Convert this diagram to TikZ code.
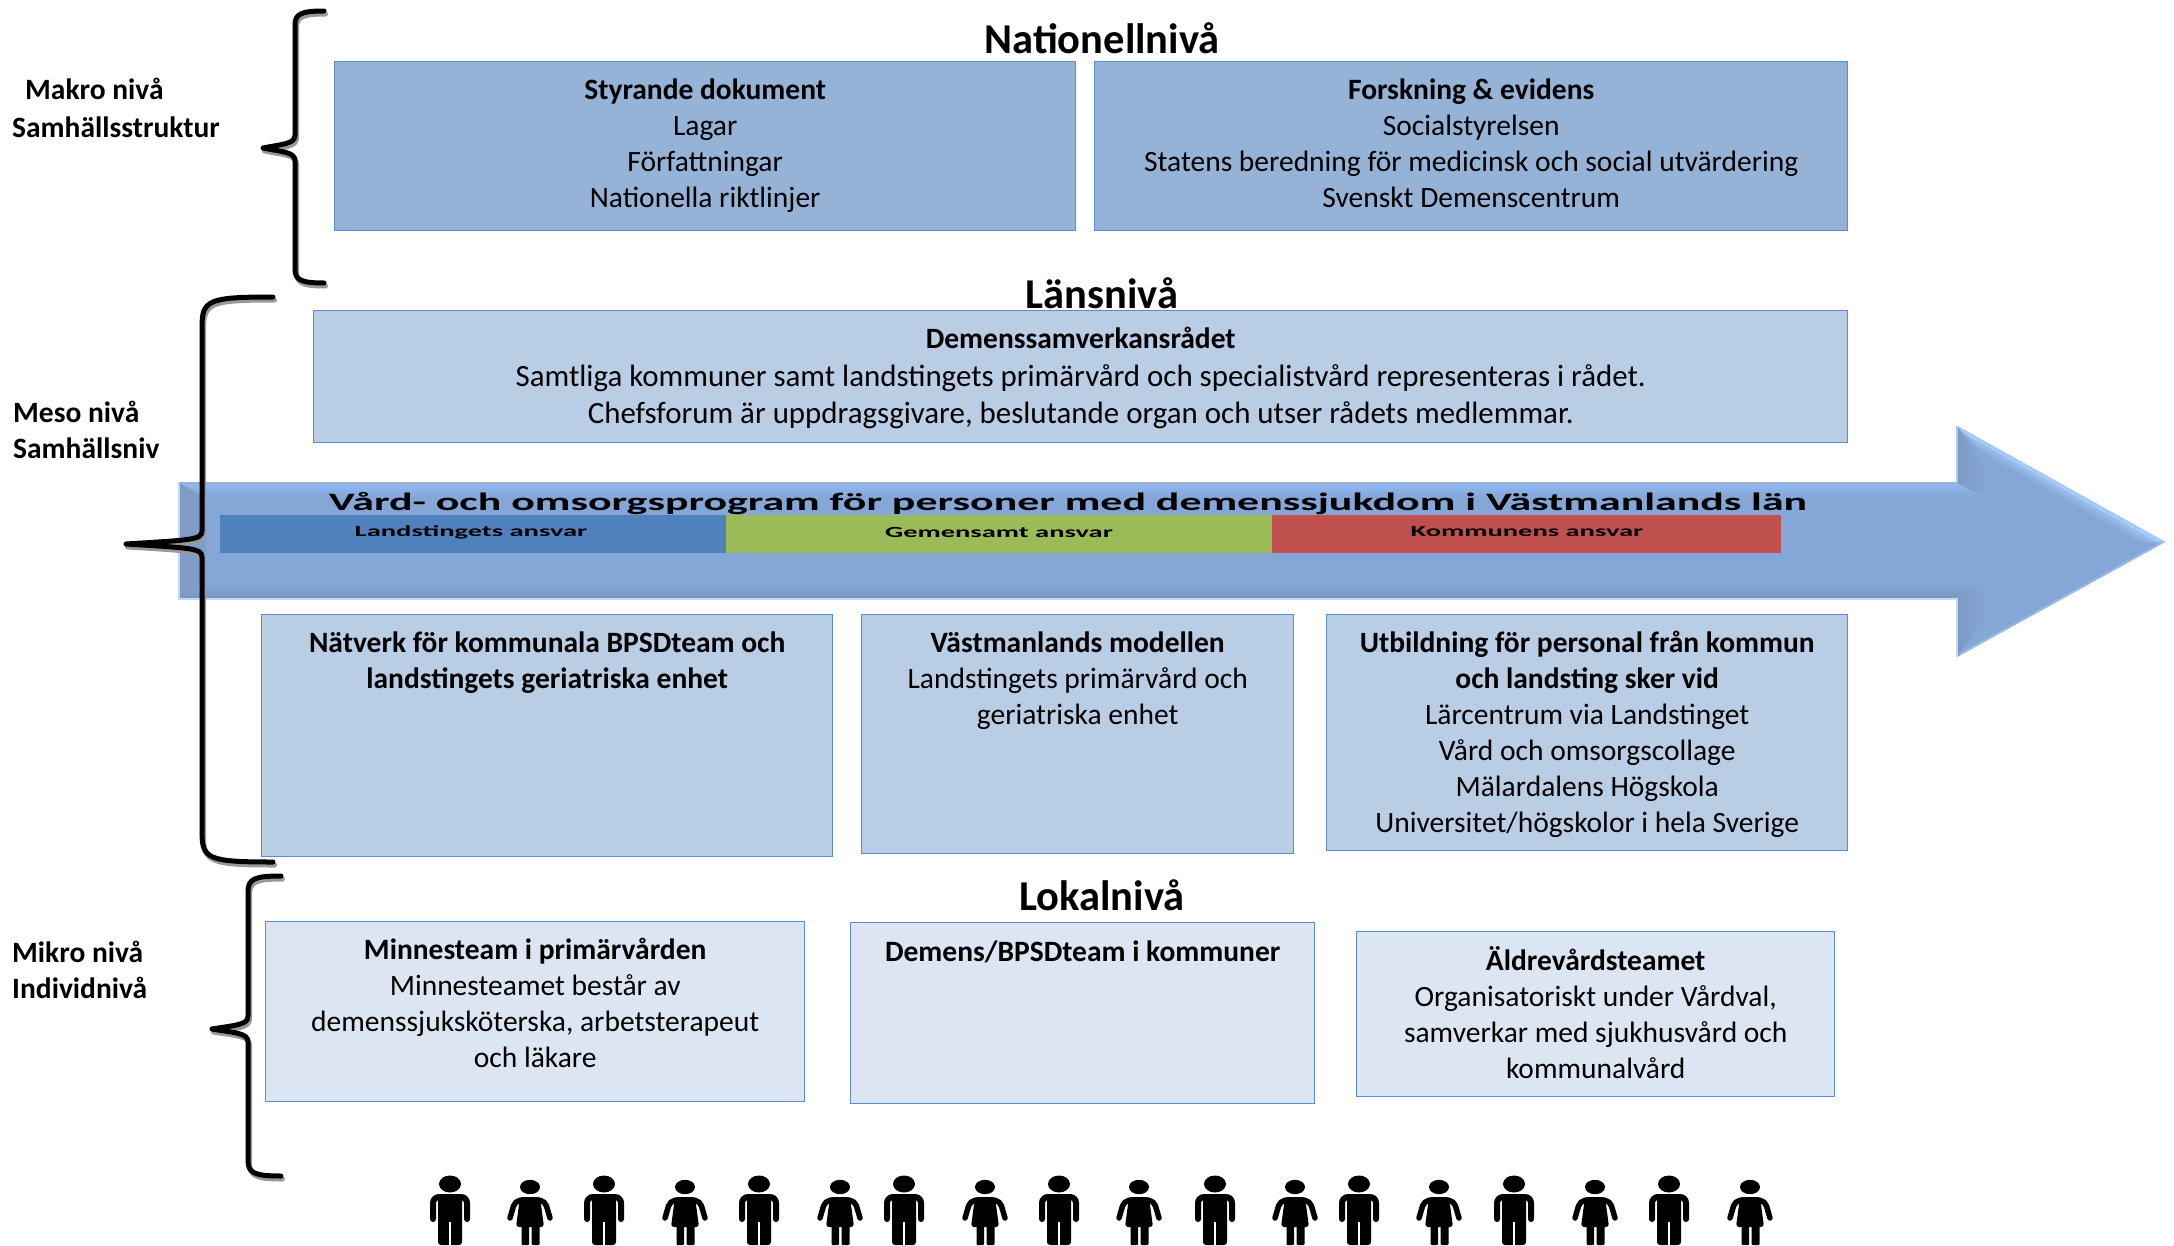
\documentclass[tikz,border=0pt]{standalone}
\usepackage{fontspec}
\setmainfont{Carlito}
\usetikzlibrary{calc,positioning}
\definecolor{natfill}{HTML}{95B3D7}
\definecolor{lanfill}{HTML}{B9CDE5}
\definecolor{lokfill}{HTML}{DCE6F2}
\definecolor{boxline}{HTML}{5B8BD0}
\definecolor{arrowbase}{HTML}{84A7D7}
\definecolor{arrowtop}{HTML}{92B9F3}
\definecolor{arrowlow}{HTML}{7A95BD}
\definecolor{arrowside}{HTML}{7F99C2}
\definecolor{arrowedge}{HTML}{A6CAF9}
\definecolor{lsblue}{HTML}{4F81BD}
\definecolor{gemgreen}{HTML}{9BBB59}
\definecolor{komred}{HTML}{C0504D}
\tikzset{
  lvlbox/.style={rectangle, draw=boxline, line width=1.4pt, anchor=north west, inner sep=0pt},
  txt/.style={align=center, inner sep=0pt, font=\fontsize{29.5}{36}\selectfont},
  hdr/.style={inner sep=0pt, font=\fontsize{42.5}{50}\selectfont\bfseries},
  side/.style={anchor=west, inner sep=0pt, font=\fontsize{29.5}{35}\selectfont\bfseries},
  bar/.style={draw=none, minimum height=38pt, inner sep=0pt, anchor=north west},
  barlbl/.style={inner sep=0pt, font=\fontsize{15.5}{18}\selectfont\bfseries},
  brace/.style={line width=5pt, line cap=round, line join=round},
  manfig/.pic={
    \fill[black] (0,0) ellipse (11 and 8.5);
    \fill[black, rounded corners=3pt] (-12,10) rectangle (12,61);
    \draw[white, line width=1.4pt] (0,38) -- (0,62);
    \draw[black, line width=6pt, line cap=round, rounded corners=6pt] (-8,13) -- (-17,13) -- (-17,35);
    \draw[black, line width=6pt, line cap=round, rounded corners=6pt] (8,13) -- (17,13) -- (17,35);
  },
  womanfig/.pic={
    \fill[black] (0,0) ellipse (10 and 7.2);
    \fill[black, rounded corners=3pt] (-10,10) -- (10,10) -- (14,40) -- (-14,40) -- cycle;
    \fill[black, rounded corners=1pt] (-8.5,39) rectangle (-0.8,58);
    \fill[black, rounded corners=1pt] (1.6,39) rectangle (9.5,58);
    \draw[black, line width=5.5pt, line cap=round, rounded corners=5pt] (-8,13) -- (-15,14) -- (-20,31);
    \draw[black, line width=5.5pt, line cap=round, rounded corners=5pt] (8,13) -- (15,14) -- (20,31);
  },
}

\begin{document}
\begin{tikzpicture}[x=1pt, y=-1pt]
  \useasboundingbox (0,0) rectangle (2174,1245);

  % --- Arrow ---
  \coordinate (BL) at (179,483);
  \coordinate (BR) at (1957,483);
  \coordinate (HT) at (1957,426);
  \coordinate (TP) at (2165,542);
  \coordinate (HB) at (1957,657);
  \coordinate (CR) at (1957,599);
  \coordinate (CL) at (179,599);
  \fill[arrowbase] (BL)--(BR)--(HT)--(TP)--(HB)--(CR)--(CL)--cycle;
  % Bevel
  \shade[top color=arrowtop, bottom color=arrowbase] (BL)--(BR)--(1985,497)--(205,497)--cycle;
  \shade[top color=arrowbase, bottom color=arrowlow] (205,583)--(1985,583)--(CR)--(CL)--cycle;
  \shade[left color=arrowside, right color=arrowside!60!arrowbase] (BL)--(205,497)--(205,583)--(CL)--cycle;
  \foreach \d/\p in {12/25, 8/50, 4/100}
    \fill[arrowedge!\p!arrowbase] (HT)--(TP)--({2165-2*\d},542)--({1957+2*\d},{426+\d*2.12})--cycle;
  \fill[arrowedge!50!arrowbase] (HB)--(TP)--(2161,542)--(1962,652)--cycle;
  \shade[left color=arrowside, right color=arrowbase] (HT)--(1985,470)--(1985,497)--(BR)--cycle;
  \shade[left color=arrowside, right color=arrowbase] (CR)--(1985,583)--(1985,618)--(HB)--cycle;
  \draw[arrowedge!70!white, line width=1.5pt, line join=miter] (HB)--(CR)--(CL)--(BL);
  \draw[arrowedge, line width=1.2pt] (BR)--(HT);
  \draw[black!15!arrowbase!70!white, line width=1.2pt] (BL)--(BR);

  \node[inner sep=0pt, font=\fontsize{25}{30}\selectfont\bfseries] (prog) at (1068,504)
    {\scalebox{1.754}[1]{Vård- och omsorgsprogram för personer med demenssjukdom i Västmanlands län}};
  \node[bar, fill=lsblue, minimum width=506pt] (lands) at (220,515) {};
  \node[bar, fill=gemgreen, minimum width=546pt] (gem) at (726,515) {};
  \node[bar, fill=komred, minimum width=509pt] (komm) at (1272,515) {};
  \node[barlbl] (landst) at (471,532) {\scalebox{1.84}[1]{Landstingets ansvar}};
  \node[barlbl] (gemt) at (999,532) {\scalebox{1.84}[1]{Gemensamt ansvar}};
  \node[barlbl] (kommt) at (1527,532) {\scalebox{1.84}[1]{Kommunens ansvar}};

  % --- Headings ---
  \node[hdr] (nat) at (1102,38) {Nationellnivå};
  \node[hdr] (lan) at (1102,293) {Länsnivå};
  \node[hdr] (lok) at (1102,895) {Lokalnivå};

  % --- National level ---
  \node[lvlbox, fill=natfill, minimum width=741pt, minimum height=169pt] (styr) at (334,61) {};
  \node[lvlbox, fill=natfill, minimum width=753pt, minimum height=169pt] (forsk) at (1094,61) {};
  \node[txt, below=18pt of styr.north] (styrt) {\textbf{Styrande dokument}\\Lagar\\Författningar\\Nationella riktlinjer};
  \node[txt, below=18pt of forsk.north] (forskt) {\textbf{Forskning \& evidens}\\Socialstyrelsen\\Statens beredning för medicinsk och social utvärdering\\Svenskt Demenscentrum};

  % --- County level ---
  \node[lvlbox, fill=lanfill, minimum width=1534pt, minimum height=132pt] (dem) at (313,310) {};
  \node[txt, below=17pt of dem.north, font=\fontsize{30.9}{37.5}\selectfont] (demt) {{\fontsize{29.5}{37.5}\selectfont\bfseries Demenssamverkansrådet}\\Samtliga kommuner samt landstingets primärvård och specialistvård representeras i rådet.\\Chefsforum är uppdragsgivare, beslutande organ och utser rådets medlemmar.};

  \node[lvlbox, fill=lanfill, minimum width=571pt, minimum height=242pt] (bpsd) at (261,614) {};
  \node[lvlbox, fill=lanfill, minimum width=432pt, minimum height=239pt] (vast) at (861,614) {};
  \node[lvlbox, fill=lanfill, minimum width=521pt, minimum height=236pt] (utb) at (1326,614) {};
  \node[txt, below=18pt of bpsd.north] (bpsdt) {\textbf{Nätverk för kommunala BPSDteam och}\\\textbf{landstingets geriatriska enhet}};
  \node[txt, below=18pt of vast.north] (vastt) {\textbf{Västmanlands modellen}\\Landstingets primärvård och\\geriatriska enhet};
  \node[txt, below=17pt of utb.north] (utbt) {\textbf{Utbildning för personal från kommun}\\\textbf{och landsting sker vid}\\Lärcentrum via Landstinget\\Vård och omsorgscollage\\Mälardalens Högskola\\Universitet/högskolor i hela Sverige};

  % --- Local level ---
  \node[lvlbox, fill=lokfill, minimum width=539pt, minimum height=180pt] (minne) at (265,921) {};
  \node[lvlbox, fill=lokfill, minimum width=464pt, minimum height=181pt] (bpsdk) at (850,922) {};
  \node[lvlbox, fill=lokfill, minimum width=478pt, minimum height=165pt] (aldre) at (1356,931) {};
  \node[txt, below=17pt of minne.north] (minnet) {\textbf{Minnesteam i primärvården}\\Minnesteamet består av\\demenssjuksköterska, arbetsterapeut\\och läkare};
  \node[txt, below=19pt of bpsdk.north] (bpsdkt) {\textbf{Demens/BPSDteam i kommuner}};
  \node[txt, below=15pt of aldre.north] (aldret) {\textbf{Äldrevårdsteamet}\\Organisatoriskt under Vårdval,\\samverkar med sjukhusvård och\\kommunalvård};

  % --- Side labels ---
  \node[side] (makro) at (25,89) {Makro nivå};
  \node[side] (samh) at (12,127) {Samhällsstruktur};
  \node[side] (meso) at (13,412) {Meso nivå};
  \node[side] (samn) at (13,448) {Samhällsniv};
  \node[side] (mikro) at (12,952) {Mikro nivå};
  \node[side] (indiv) at (12,988) {Individnivå};

  % --- Braces ---
  \foreach \xe/\xs/\xt/\yt/\ym/\yb/\rr in {324/295/263/11/148/283/14, 273/202/126/297/544/862/30, 281/248/212/876/1029/1176/16}{
    \foreach \col/\dx/\dy in {black!40/1.5/3, black/0/0}{
      \draw[brace, \col, shift={(\dx,\dy)}]
        (\xe,\yt) .. controls ({\xs+6},\yt) and (\xs,{\yt+3}) .. (\xs,{\yt+\rr})
        -- (\xs,{\ym-13}) .. controls (\xs,{\ym-4}) and ({\xs-12},{\ym-4}) .. (\xt,\ym)
        .. controls ({\xs-12},{\ym+4}) and (\xs,{\ym+4}) .. (\xs,{\ym+13})
        -- (\xs,{\yb-\rr}) .. controls (\xs,{\yb-3}) and ({\xs+6},\yb) .. (\xe,\yb);
    }
  }

  % --- People ---
  \foreach \px in {450,604,759,904,1059,1215,1359,1514,1669}
    \pic at (\px,1184) {manfig};
  \foreach \px in {530,685,840,985,1139,1295,1439,1595,1750}
    \pic at (\px,1187) {womanfig};
\end{tikzpicture}
\end{document}
